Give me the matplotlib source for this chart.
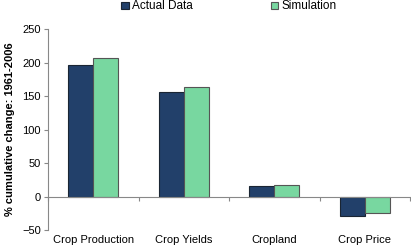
import matplotlib
matplotlib.use("Agg")
import matplotlib.pyplot as plt
import numpy as np

plt.rcParams['font.family'] = ['Liberation Sans', 'DejaVu Sans']

categories = ['Crop Production', 'Crop Yields', 'Cropland', 'Crop Price']
actual = [196, 156, 16, -29]
simulation = [206, 163, 17, -24]

fig = plt.figure(figsize=(4.11, 2.45), dpi=100)
ax = fig.add_axes([48 / 411, 15 / 245, 362 / 411, 201 / 245])

x = np.arange(len(categories))
w = 0.278
ax.bar(x - w / 2, actual, w, color='#22406A', edgecolor='#1a2533', linewidth=0.8, label='Actual Data')
ax.bar(x + w / 2, simulation, w, color='#78D7A0', edgecolor='#555555', linewidth=0.8, label='Simulation')

ax.set_xlim(-0.5, len(categories) - 0.5)
ax.set_ylim(-50, 250)
ax.set_yticks(np.arange(-50, 251, 50))

for s in ['top', 'right']:
    ax.spines[s].set_visible(False)
ax.spines['left'].set_color('#888888')
ax.spines['bottom'].set_color('#888888')
ax.spines['bottom'].set_position(('data', 0))

ax.set_xticks(np.arange(len(categories) + 1) - 0.5)
ax.set_xticklabels([])
ax.tick_params(axis='x', length=3, color='#888888', direction='out')
ax.tick_params(axis='y', length=3, color='#888888', labelsize=8, pad=2)

for xi, c in zip(x, categories):
    ax.text(xi, -0.025, c, transform=ax.get_xaxis_transform(), ha='center', va='top', fontsize=8)

ax.set_ylabel('% cumulative change: 1961-2006', fontsize=8, fontweight='bold', labelpad=5)

ax.legend(loc='center', bbox_to_anchor=(0.5, 1.112), ncol=2, frameon=False, fontsize=8.5,
          handlelength=0.6, handleheight=0.6, handletextpad=0.3, columnspacing=6.6,
          borderpad=0, borderaxespad=0)

fig.savefig('out.png', dpi=100)
